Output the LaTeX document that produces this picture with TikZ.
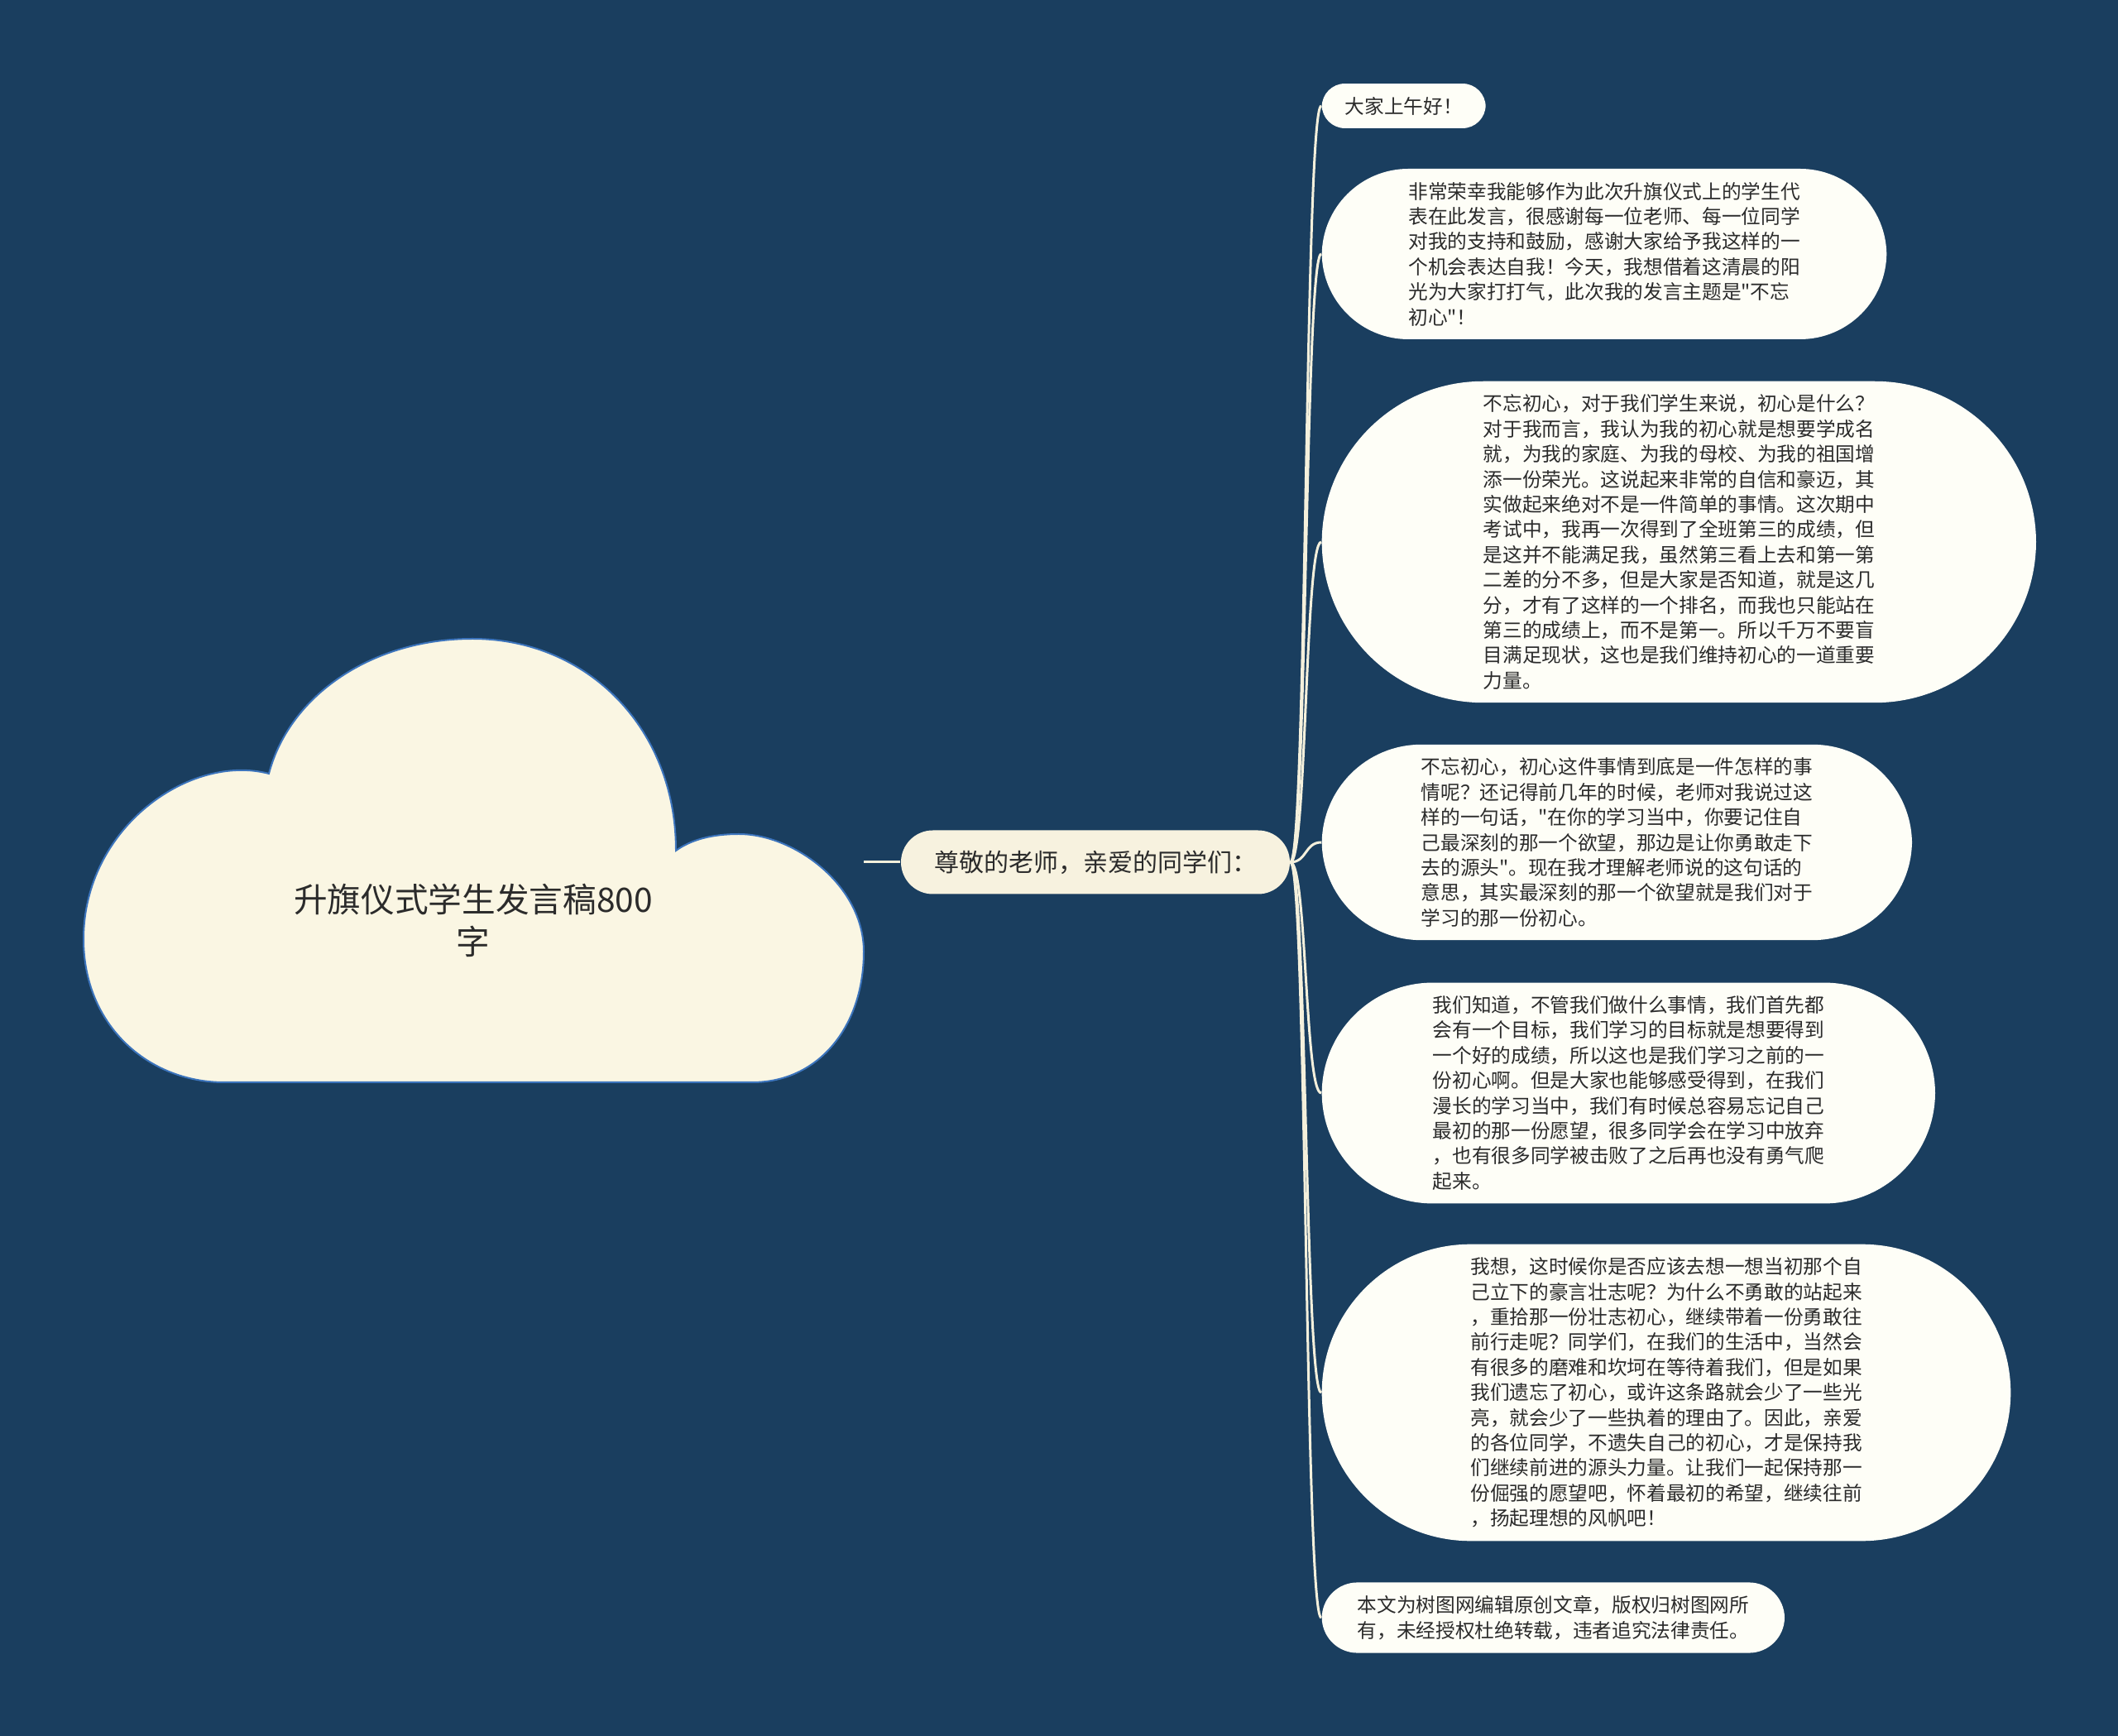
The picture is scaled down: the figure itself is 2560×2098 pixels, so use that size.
\documentclass[tikz,border=0pt]{standalone}
\usepackage{fontspec}
\setmainfont{Noto Sans CJK SC}[Ligatures=TeXOff]
\usepackage{xcolor}

\definecolor{bgblue}{HTML}{1A3E5F}
\definecolor{cloudfill}{HTML}{FAF6E3}
\definecolor{cloudline}{HTML}{3C74BC}
\definecolor{hubfill}{HTML}{F7F2DF}
\definecolor{leaffill}{HTML}{FEFEF7}
\definecolor{linkcol}{HTML}{F4F0DC}
\definecolor{txtcol}{HTML}{2B2B2B}

\begin{document}
\begin{tikzpicture}[x=0.3pt,y=-0.3pt,
    every node/.style={text=txtcol},
    every edge/.style={draw=linkcol,line width=0.9pt},
    hub node/.style={rectangle,rounded corners=11.55pt,fill=hubfill,inner xsep=12pt,
      minimum height=23.1pt,font=\fontsize{9pt}{10.5pt}\selectfont},
    leaf node/.style={rectangle,rounded corners=#1,fill=leaffill,inner xsep=#1,inner ysep=4.8pt,
      align=left,anchor=west,font=\fontsize{7.1pt}{9.12pt}\selectfont}]

  % background
  \fill[bgblue] (0,0) rectangle (2560,2098);

  % cloud
  \filldraw[fill=cloudfill,draw=cloudline,line width=0.6pt]
    (325,935) .. controls (230,910) and (101,1000) .. (101,1135)
    .. controls (101,1240) and (180,1308) .. (271,1308)
    -- (909,1308)
    .. controls (990,1308) and (1044,1240) .. (1044,1150)
    .. controls (1044,1070) and (960,1008) .. (893,1008)
    .. controls (860,1008) and (835,1015) .. (817,1028)
    .. controls (817,880) and (710,772) .. (571,772)
    .. controls (450,772) and (350,840) .. (325,935) -- cycle;

  \node[align=center,font=\fontsize{12.2pt}{15.3pt}\selectfont] (root) at (572,1112)
    {升旗仪式学生发言稿800\\字};
  \coordinate (rootE) at (1044,1042);

  \node[hub node] (hub) at (1324,1042) {尊敬的老师，亲爱的同学们：};

  \node[leaf node=8.4pt] (1) at (1597,128) {大家上午好！};
  \node[leaf node=31.4pt] (2) at (1597,307) {非常荣幸我能够作为此次升旗仪式上的学生代\\
    表在此发言，很感谢每一位老师、每一位同学\\
    对我的支持和鼓励，感谢大家给予我这样的一\\
    个机会表达自我！今天，我想借着这清晨的阳\\
    光为大家打打气，此次我的发言主题是"不忘\\
    初心"！};
  \node[leaf node=58.5pt] (3) at (1597,655) {不忘初心，对于我们学生来说，初心是什么？\\
    对于我而言，我认为我的初心就是想要学成名\\
    就，为我的家庭、为我的母校、为我的祖国增\\
    添一份荣光。这说起来非常的自信和豪迈，其\\
    实做起来绝对不是一件简单的事情。这次期中\\
    考试中，我再一次得到了全班第三的成绩，但\\
    是这并不能满足我，虽然第三看上去和第一第\\
    二差的分不多，但是大家是否知道，就是这几\\
    分，才有了这样的一个排名，而我也只能站在\\
    第三的成绩上，而不是第一。所以千万不要盲\\
    目满足现状，这也是我们维持初心的一道重要\\
    力量。};
  \node[leaf node=36pt] (4) at (1597,1018) {不忘初心，初心这件事情到底是一件怎样的事\\
    情呢？还记得前几年的时候，老师对我说过这\\
    样的一句话，"在你的学习当中，你要记住自\\
    己最深刻的那一个欲望，那边是让你勇敢走下\\
    去的源头"。现在我才理解老师说的这句话的\\
    意思，其实最深刻的那一个欲望就是我们对于\\
    学习的那一份初心。};
  \node[leaf node=40.2pt] (5) at (1597,1321) {我们知道，不管我们做什么事情，我们首先都\\
    会有一个目标，我们学习的目标就是想要得到\\
    一个好的成绩，所以这也是我们学习之前的一\\
    份初心啊。但是大家也能够感受得到，在我们\\
    漫长的学习当中，我们有时候总容易忘记自己\\
    最初的那一份愿望，很多同学会在学习中放弃\\
    ，也有很多同学被击败了之后再也没有勇气爬\\
    起来。};
  \node[leaf node=53.9pt] (6) at (1597,1683) {我想，这时候你是否应该去想一想当初那个自\\
    己立下的豪言壮志呢？为什么不勇敢的站起来\\
    ，重拾那一份壮志初心，继续带着一份勇敢往\\
    前行走呢？同学们，在我们的生活中，当然会\\
    有很多的磨难和坎坷在等待着我们，但是如果\\
    我们遗忘了初心，或许这条路就会少了一些光\\
    亮，就会少了一些执着的理由了。因此，亲爱\\
    的各位同学，不遗失自己的初心，才是保持我\\
    们继续前进的源头力量。让我们一起保持那一\\
    份倔强的愿望吧，怀着最初的希望，继续往前\\
    ，扬起理想的风帆吧！};
  \node[leaf node=12.9pt] (7) at (1597,1955) {本文为树图网编辑原创文章，版权归树图网所\\
    有，未经授权杜绝转载，违者追究法律责任。};

  \path
    (rootE) edge (hub)
    (hub) edge [out=0,in=180,distance=6pt] (1)
    (hub) edge [out=0,in=180,distance=6pt] (2)
    (hub) edge [out=0,in=180,distance=6pt] (3)
    (hub) edge [out=0,in=180,distance=6pt] (4)
    (hub) edge [out=0,in=180,distance=6pt] (5)
    (hub) edge [out=0,in=180,distance=6pt] (6)
    (hub) edge [out=0,in=180,distance=6pt] (7);
\end{tikzpicture}
\end{document}
